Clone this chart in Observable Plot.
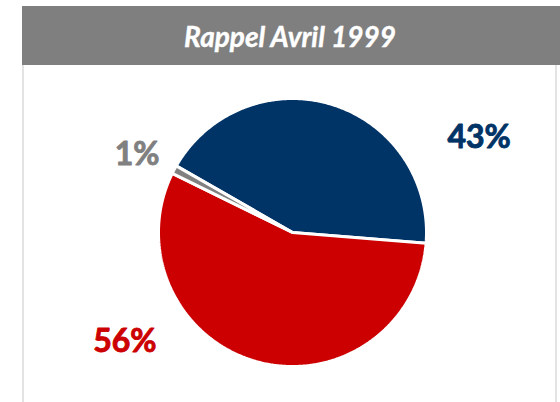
<!DOCTYPE html>
<html>
<head>
<meta charset="utf-8">
<script src="https://cdn.jsdelivr.net/npm/d3@7"></script>
<script src="https://cdn.jsdelivr.net/npm/@observablehq/plot@0.6"></script>
<style>
  html, body { margin: 0; padding: 0; background: #fff; }
  #page { position: relative; width: 560px; height: 402px; overflow: hidden; }
  #header { position: absolute; left: 22px; top: 6px; width: 538px; height: 59px; background: #7f7f7f;
            display: flex; align-items: center; justify-content: center; }
  #header span { color: #fff; font-family: Lato, "Open Sans", sans-serif; font-weight: bold; font-style: italic; font-size: 28px; margin-left: -2px; -webkit-text-stroke: 0.4px #fff; }
  .vline { position: absolute; top: 65px; width: 2px; height: 337px; background: #e3e3e3; }
  #chart { position: absolute; left: 0; top: 65px; }
</style>
</head>
<body>
<div id="page">
  <div id="header"><span>Rappel Avril 1999</span></div>
  <div class="vline" style="left:22px"></div>
  <div class="vline" style="left:555px"></div>
  <div id="chart"></div>
</div>
<script>
// Data
const categories = ["Bleu", "Rouge", "Gris"];
const values = [43, 56, 1];
const labels = ["43%", "56%", "1%"];
const colors = ["#003366", "#cc0000", "#808080"];

// Pie layout (angles in degrees, clockwise from 12 o'clock)
const startAngle = 299.8;
const total = d3.sum(values);
const slices = [];
let a = startAngle;
values.forEach((v, i) => {
  const span = v / total * 360;
  slices.push({cat: categories[i], label: labels[i], a0: a, a1: a + span, mid: a + span / 2});
  a += span;
});
const rad = d => d * Math.PI / 180;
const pts = [];
for (const s of slices) {
  pts.push({cat: s.cat, x: 0, y: 0});
  const n = Math.max(2, Math.ceil((s.a1 - s.a0) / 0.5));
  for (let k = 0; k <= n; k++) {
    const t = rad(s.a0 + (s.a1 - s.a0) * k / n);
    pts.push({cat: s.cat, x: Math.sin(t), y: Math.cos(t)});
  }
}
const labelPts = slices.map(s => ({cat: s.cat, label: s.label, x: Math.sin(rad(s.mid)), y: Math.cos(rad(s.mid))}));
const labelStyle = {x: "x", y: "y", text: "label", fill: "cat", stroke: "cat", strokeWidth: 0.9,
                    fontSize: 32, fontWeight: "bold", fontFamily: "Lato, 'Open Sans', sans-serif"};

const chart = Plot.plot({
  width: 560,
  height: 337,
  marginLeft: 158,
  marginRight: 134,
  marginTop: 33,
  marginBottom: 36,
  x: {domain: [-1, 1], axis: null},
  y: {domain: [-1, 1], axis: null},
  color: {domain: categories, range: colors},
  style: {background: "transparent", overflow: "visible"},
  marks: [
    Plot.line(pts, {x: "x", y: "y", z: "cat", fill: "cat", stroke: "white", strokeWidth: 3,
                    strokeLinejoin: "miter", curve: "linear-closed"}),
    Plot.text(labelPts.filter(d => d.cat === "Bleu"), {...labelStyle, dx: 147, dy: 33}),
    Plot.text(labelPts.filter(d => d.cat === "Rouge"), {...labelStyle, dx: -132, dy: -20}),
    Plot.text(labelPts.filter(d => d.cat === "Gris"), {...labelStyle, dx: -37, dy: -15})
  ]
});
document.getElementById("chart").appendChild(chart);
</script>
</body>
</html>
